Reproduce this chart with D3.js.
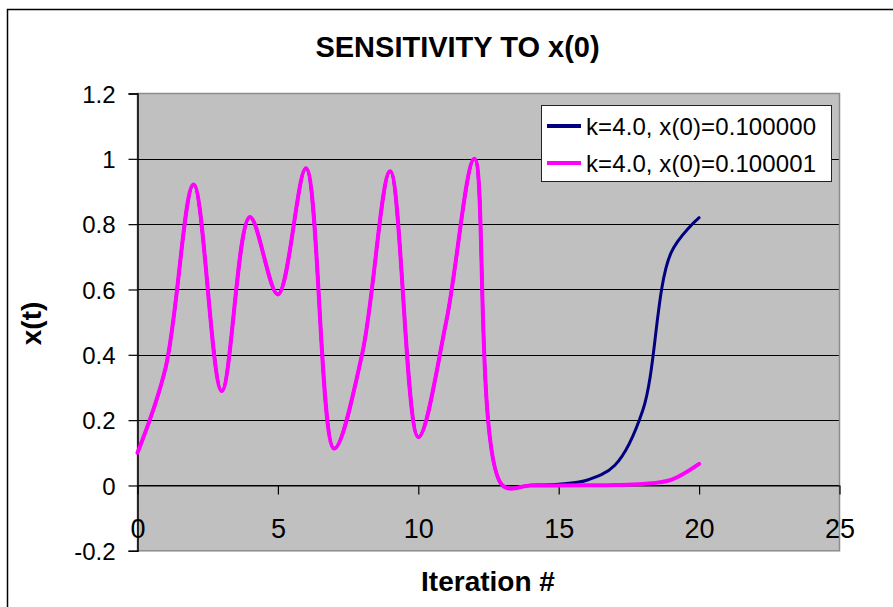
<!DOCTYPE html>
<html>
<head>
<meta charset="utf-8">
<script src="https://cdn.jsdelivr.net/npm/d3@7"></script>
<style>
  html, body { margin: 0; padding: 0; background: #ffffff; }
  svg { display: block; font-family: "Liberation Sans", Arial, sans-serif; }
</style>
</head>
<body>
<svg id="chart" width="893" height="607"></svg>
<script>
// Logistic map iterates for two nearly identical starting values
const iterations = [0, 1, 2, 3, 4, 5, 6, 7, 8, 9, 10, 11, 12, 13, 14, 15, 16, 17, 18, 19, 20];
const seriesA = [0.1, 0.36, 0.9216, 0.289, 0.822, 0.585, 0.971, 0.113, 0.402, 0.962, 0.148, 0.504, 1.0,
                 0.0002, 0.001, 0.004, 0.016, 0.062, 0.232, 0.712, 0.82];
const seriesB = [0.1, 0.36, 0.9216, 0.289, 0.822, 0.585, 0.971, 0.113, 0.402, 0.962, 0.148, 0.504, 1.0,
                 0.00001, 0.00003, 0.0001, 0.0004, 0.0011, 0.0045, 0.017, 0.066];
const seriesNames = ["k=4.0, x(0)=0.100000", "k=4.0, x(0)=0.100001"];
const seriesColors = ["#000080", "#ff00ff"];
const seriesWidths = [3, 4];
const xTicks = [0, 5, 10, 15, 20, 25];
const yTicks = [-0.2, 0, 0.2, 0.4, 0.6, 0.8, 1, 1.2];
const yTickLabels = ["-0.2", "0", "0.2", "0.4", "0.6", "0.8", "1", "1.2"];
const gridValues = [0, 0.2, 0.4, 0.6, 0.8, 1];

const svg = d3.select("#chart");
const W = 893, H = 607;
const plot = { left: 137.5, right: 839.5, top: 93.5, bottom: 550.8 };

const x = d3.scaleLinear().domain([0, 25]).range([plot.left, plot.right]);
const y = d3.scaleLinear().domain([-0.2, 1.2]).range([plot.bottom, plot.top]);

svg.append("rect").attr("width", W).attr("height", H).attr("fill", "#ffffff");

// chart area frame (runs past the right and bottom edges)
svg.append("rect")
  .attr("x", 7.5).attr("y", 9.5).attr("width", 920).attr("height", 640)
  .attr("fill", "none").attr("stroke", "#000").attr("stroke-width", 1.5);

// plot area
svg.append("rect")
  .attr("x", plot.left).attr("y", plot.top)
  .attr("width", plot.right - plot.left).attr("height", plot.bottom - plot.top)
  .attr("fill", "#c0c0c0");

svg.append("g").selectAll("line").data(gridValues).join("line")
  .attr("x1", plot.left).attr("x2", plot.right)
  .attr("y1", d => Math.round(y(d)) + 0.5).attr("y2", d => Math.round(y(d)) + 0.5)
  .attr("stroke", "#000").attr("stroke-width", 1);

svg.append("rect")
  .attr("x", plot.left).attr("y", plot.top)
  .attr("width", plot.right - plot.left).attr("height", plot.bottom - plot.top)
  .attr("fill", "none").attr("stroke", "#8c8c8c").attr("stroke-width", 1.5);

// y axis
const yAxis = d3.axisLeft(y).tickValues(yTicks).tickSize(9).tickPadding(13)
  .tickFormat((d, i) => yTickLabels[i]);
const gy = svg.append("g").attr("transform", `translate(${plot.left},0)`).call(yAxis);
gy.select(".domain").attr("stroke", "#000").attr("stroke-width", 1.5);
gy.selectAll(".tick line").attr("stroke", "#000").attr("stroke-width", 1.2);
gy.selectAll(".tick text")
  .attr("font-family", "Liberation Sans, Arial, sans-serif")
  .attr("font-size", 24).attr("fill", "#000").attr("dy", "0.36em");

// x axis, crossing at y = 0
const xAxis = d3.axisBottom(x).tickValues(xTicks).tickSize(9).tickPadding(24).tickSizeOuter(0);
const gx = svg.append("g").attr("transform", `translate(0,${Math.round(y(0)) + 0.5})`).call(xAxis);
gx.select(".domain").attr("stroke", "#000").attr("stroke-width", 1.2);
gx.selectAll(".tick line").attr("stroke", "#000").attr("stroke-width", 1.2);
gx.selectAll(".tick text")
  .attr("font-family", "Liberation Sans, Arial, sans-serif")
  .attr("font-size", 27).attr("fill", "#000");

// series
const curve = d3.curveCatmullRom.alpha(0.5);
[seriesA, seriesB].forEach((vals, i) => {
  const line = d3.line()
    .x((d, j) => x(iterations[j]))
    .y(d => y(d))
    .curve(curve);
  svg.append("path")
    .datum(vals)
    .attr("d", line)
    .attr("fill", "none")
    .attr("stroke", seriesColors[i])
    .attr("stroke-width", seriesWidths[i])
    .attr("stroke-linejoin", "round")
    .attr("stroke-linecap", "round");
});

// legend
const legend = svg.append("g");
legend.append("rect")
  .attr("x", 541.5).attr("y", 105.5).attr("width", 290).attr("height", 76)
  .attr("fill", "#fff").attr("stroke", "#222").attr("stroke-width", 1);
seriesNames.forEach((name, i) => {
  const cy = 126 + i * 37;
  legend.append("line")
    .attr("x1", 547).attr("x2", 581).attr("y1", cy).attr("y2", cy)
    .attr("stroke", seriesColors[i]).attr("stroke-width", 4);
  legend.append("text")
    .attr("x", 586).attr("y", cy + 8.5)
    .attr("font-size", 24).attr("fill", "#000")
    .attr("textLength", 230).attr("lengthAdjust", "spacing")
    .text(name);
});

// titles
svg.append("text")
  .attr("x", 457.5).attr("y", 57)
  .attr("text-anchor", "middle").attr("font-weight", "bold").attr("font-size", 29)
  .text("SENSITIVITY TO x(0)");

svg.append("text")
  .attr("x", 488).attr("y", 591)
  .attr("text-anchor", "middle").attr("font-weight", "bold").attr("font-size", 28)
  .text("Iteration #");

svg.append("text")
  .attr("transform", "translate(41,323.5) rotate(-90)")
  .attr("text-anchor", "middle").attr("font-weight", "bold").attr("font-size", 28)
  .text("x(t)");
</script>
</body>
</html>
